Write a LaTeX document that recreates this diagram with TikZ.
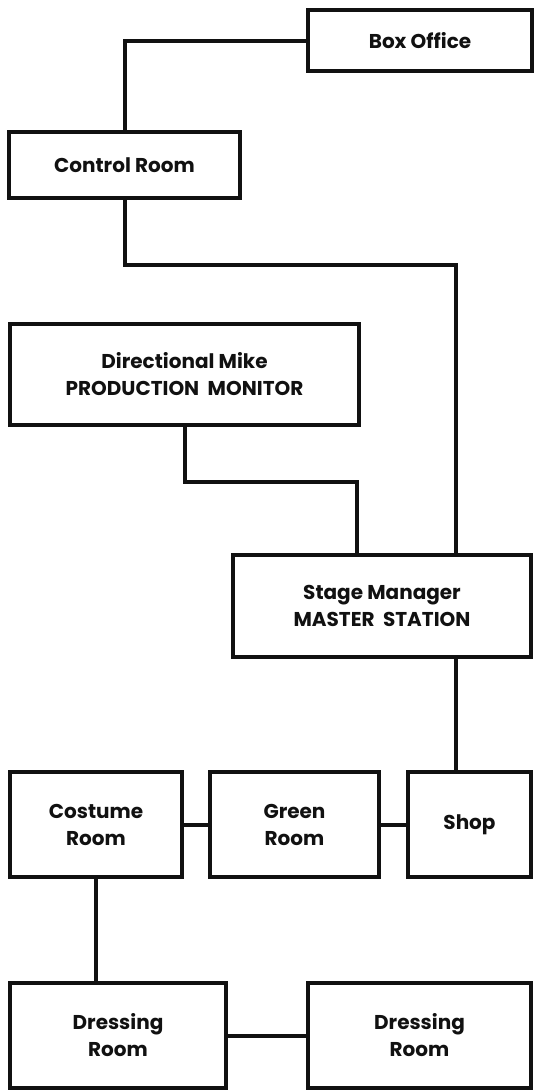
\documentclass[tikz,border=0pt]{standalone}
\usepackage{fontspec}
\setmainfont{Poppins}
\usepackage{tikz}
\usetikzlibrary{positioning,calc}
\definecolor{ink}{HTML}{111111}
\tikzset{
  room/.style={rectangle,draw=ink,line width=4pt,fill=white,
               minimum width=#1,inner sep=2pt,
               font=\fontsize{20}{27}\selectfont\bfseries,align=center,text=ink},
  room/.default=150pt,
  wire/.style={line width=4pt,color=ink,line cap=rect},
}
\begin{document}
\begin{tikzpicture}[x=1pt,y=-1pt]
  \useasboundingbox (0,0) rectangle (534,1090);

  \node[room=224pt,minimum height=61pt] (boxoff) at (420,40.5) {Box Office};
  \node[room=231pt,minimum height=66pt] (ctrl) at (124.5,165) {Control Room};
  \node[room=349pt,minimum height=101pt] (mike) at (184.5,374.5)
    {Directional Mike\\PRODUCTION\ \ MONITOR};
  \node[room=298pt,minimum height=102pt] (master) at (382,606)
    {Stage Manager\\MASTER\ \ STATION};

  \node[room=172pt,minimum height=105pt] (costume) at (96,824.5) {Costume\\Room};
  \node[room=169pt,minimum height=105pt] (green) at (294.5,824.5) {Green\\Room};
  \node[room=123pt,minimum height=105pt] (shop) at (469.5,824.5) {Shop};

  \node[room=216pt,minimum height=105pt] (dress1) at (118,1035.5) {Dressing\\Room};
  \node[room=223pt,minimum height=105pt] (dress2) at (419.5,1035.5) {Dressing\\Room};

  % intercom lines
  \draw[wire] (boxoff.west) -| (ctrl.north);
  \draw[wire] (ctrl.south) -- ++(0,65) -| ([xshift=74pt]master.north);
  \draw[wire] (mike.south) -- ++(0,55) -| ([xshift=-25pt]master.north);
  \draw[wire] ([xshift=74pt]master.south) -- ([xshift=74pt]master.south |- shop.north);
  \draw[wire] (costume) -- (green);
  \draw[wire] (green) -- (shop);
  \draw[wire] (costume.south) -- (costume.south |- dress1.north);
  \draw[wire] (dress1) -- (dress2);
\end{tikzpicture}
\end{document}
